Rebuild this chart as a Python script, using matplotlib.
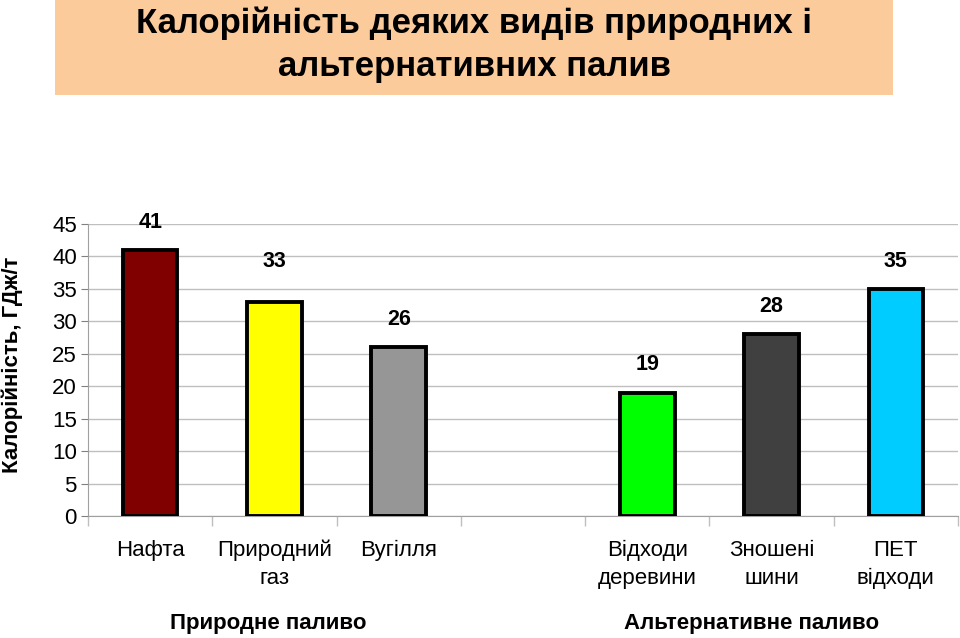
import matplotlib.pyplot as plt
from matplotlib.patches import Rectangle

plt.rcParams['font.family'] = ['Liberation Sans', 'DejaVu Sans']

# дані
categories = ['Нафта', 'Природний\nгаз', 'Вугілля', 'Відходи\nдеревини', 'Зношені\nшини', 'ПЕТ\nвідходи']
values = [41, 33, 26, 19, 28, 35]
slots = [0, 1, 2, 4, 5, 6]  # слот 3 порожній
colors = ['#800000', '#FFFF00', '#969696', '#00FF00', '#404040', '#00CCFF']
label_offsets = [20, 29, 20, 20, 20, 20]  # зсув підписів значень, pt
groups = ['Природне паливо', 'Альтернативне паливо']

fig = plt.figure(figsize=(9.6, 6.38), dpi=100)
ax = fig.add_axes([88 / 960, 122 / 638, 870 / 960, 292 / 638])

# заголовок у рамці
fig.patches.append(Rectangle((55 / 960, 1 - 95 / 638), 838 / 960, 95 / 638,
                             transform=fig.transFigure, facecolor='#FCCB9C',
                             edgecolor='none', zorder=0))
fig.text(474 / 960, 1 - 45 / 638, 'Калорійність деяких видів природних і\nальтернативних палив',
         ha='center', va='center', fontsize=25, fontweight='bold',
         family=['Liberation Sans Narrow', 'Liberation Sans', 'DejaVu Sans'],
         linespacing=1.4)

bars = ax.bar(slots, values, width=0.44, color=colors, edgecolor='black',
              linewidth=2.8, zorder=3)
for s, v, off in zip(slots, values, label_offsets):
    ax.annotate(str(v), (s, v), xytext=(0, off), textcoords='offset points',
                ha='center', va='center', fontsize=15.5, fontweight='bold')

ax.set_xlim(-0.5, 6.5)
ax.set_ylim(0, 45)
ax.set_yticks(range(0, 46, 5))
ax.tick_params(axis='y', labelsize=16, length=5, color='#808080', pad=3)
ax.yaxis.grid(True, color='#BFBFBF', linewidth=1, zorder=0)
ax.set_axisbelow(True)

ax.set_xticks(slots)
ax.set_xticklabels(categories, fontsize=16, linespacing=1.45, va='top')
ax.tick_params(axis='x', which='major', length=0, pad=17)
ax.set_xticks([i - 0.5 for i in range(8)], minor=True)
ax.tick_params(axis='x', which='minor', length=7, color='#BFBFBF', width=1)

for side in ['top', 'right']:
    ax.spines[side].set_visible(False)
ax.spines['left'].set_color('#A0A0A0')
ax.spines['bottom'].set_color('#A0A0A0')

fig.text(12 / 960, 1 - 365 / 638, 'Калорійність, ГДж/т', rotation=90,
         ha='center', va='center', fontsize=16, fontweight='bold')
fig.text(268 / 960, 1 - 623 / 638, groups[0], ha='center', va='center',
         fontsize=16, fontweight='bold')
fig.text(752 / 960, 1 - 623 / 638, groups[1], ha='center', va='center',
         fontsize=16, fontweight='bold')

fig.savefig('out.png', dpi=100)
